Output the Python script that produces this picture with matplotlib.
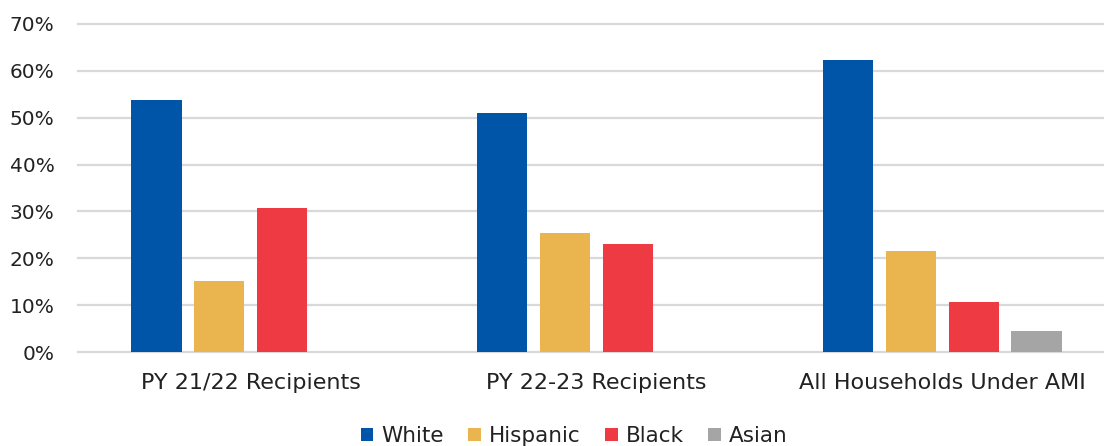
import matplotlib.pyplot as plt
import numpy as np
from matplotlib.ticker import PercentFormatter

groups = ['PY 21/22 Recipients', 'PY 22-23 Recipients', 'All Households Under AMI']
series = ['White', 'Hispanic', 'Black', 'Asian']
white = [0.537, 0.510, 0.623]
hispanic = [0.151, 0.254, 0.215]
black = [0.307, 0.230, 0.107]
asian = [np.nan, np.nan, 0.045]
colors = ['#0055A8', '#EAB44E', '#EE3A43', '#A5A5A5']

plt.rcParams['font.family'] = ['DejaVu Sans']

fig = plt.figure(figsize=(11.04, 4.46), dpi=100)
W, H = 1104, 446
ax = fig.add_axes([78 / W, (H - 352) / H, (1115 - 78) / W, (352 - 24) / H])

x = np.arange(len(groups))
width = 0.145
step = 0.182
for i, (name, vals) in enumerate(zip(series, [white, hispanic, black, asian])):
    ax.bar(x + (i - 1.5) * step, vals, width, color=colors[i], label=name, zorder=3)

ax.set_xlim(-0.5, 2.5)
ax.set_ylim(0, 0.7)
ax.set_yticks(np.arange(0, 0.71, 0.1))
ax.yaxis.set_major_formatter(PercentFormatter(1.0, decimals=0))
ax.set_xticks(x)
ax.set_xticklabels(groups)
ax.grid(axis='y', color='#D9D9D9', linewidth=1.6, zorder=0)
for gl in ax.get_ygridlines():
    gl.set_clip_on(False)
for s in ax.spines.values():
    s.set_visible(False)
ax.tick_params(axis='y', length=0, labelsize=14.5, colors='#222222', pad=17)
ax.tick_params(axis='x', length=0, labelsize=16, colors='#222222', pad=15)

fig.legend(loc='center', bbox_to_anchor=(574 / W, (H - 436) / H), ncol=4,
           frameon=False, fontsize=15.5, handlelength=0.6, handleheight=0.6,
           handletextpad=0.35, columnspacing=1.15, borderpad=0,
           labelcolor='#222222')

fig.savefig('out.png', dpi=100)
